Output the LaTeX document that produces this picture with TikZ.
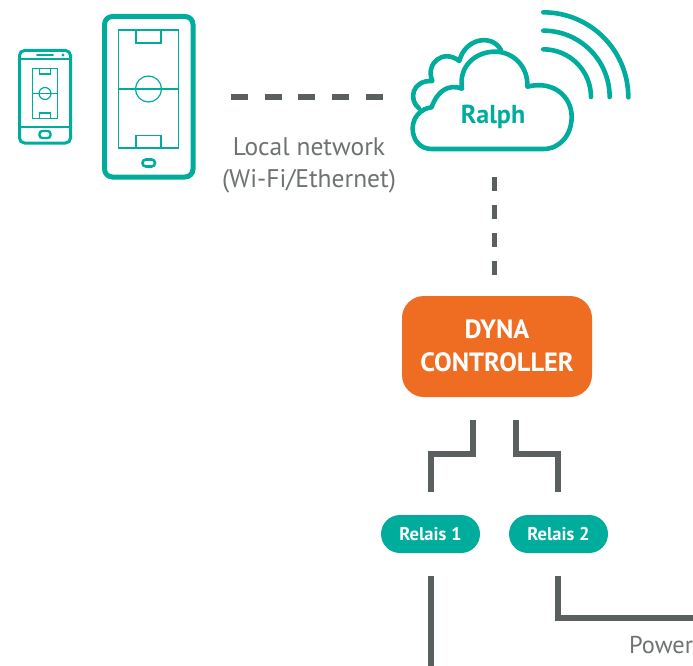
\documentclass[tikz,border=0pt]{standalone}
\usepackage{fontspec}
\setmainfont{PT Sans}
\definecolor{teal1}{HTML}{00AC9B}
\definecolor{orange1}{HTML}{EF6C23}
\definecolor{gray1}{HTML}{5A5F5F}
\definecolor{gray2}{HTML}{6E7272}
\tikzset{
  wire/.style={draw=gray1,line width=5.6pt},
  dashh/.style={draw=gray1,line width=5.8pt,dash pattern=on 17pt off 16.7pt},
  dashv/.style={draw=gray1,line width=5.8pt,dash pattern=on 14pt off 14pt},
  pill/.style={rounded rectangle,fill=teal1,text=white,minimum width=99pt,minimum height=38pt,inner sep=0pt,font=\fontsize{18.5}{20}\selectfont\bfseries},
  ctrl/.style={rectangle,rounded corners=22pt,fill=orange1,text=white,minimum width=190pt,minimum height=101pt,inner sep=0pt,align=center,font=\fontsize{26.4}{33}\selectfont\bfseries},
  lab/.style={text=gray2,inner sep=0pt,align=center,font=\fontsize{25.5}{32}\selectfont},
  teal thick/.style={draw=teal1,line width=5pt},
  teal mid/.style={draw=teal1,line width=3pt},
  teal thin/.style={draw=teal1,line width=1.2pt},
  cloudline/.style={draw=teal1,line width=4.6pt,line join=round,line cap=round},
}
\usetikzlibrary{shapes.misc}
\begin{document}
\begin{tikzpicture}[x=1pt,y=-1pt]
\useasboundingbox (0,0) rectangle (693,666);
\clip (0,0) rectangle (693,666);
% large tablet
\draw[teal thick,rounded corners=8pt] (104.5,16.5) rectangle (193,177);
\draw[teal thin] (118.5,30) rectangle (178.5,148);
\draw[teal thin] (136,30) rectangle (161,43);
\draw[teal thin] (136,135.5) rectangle (161,148);
\draw[teal thin] (118.5,89) -- (178.5,89);
\draw[teal thin] (148.5,89) circle[radius=13];
\draw[teal1,line width=2.6pt,rounded corners=3.4pt] (142.5,159.5) rectangle (155,166.5);
% small phone
\draw[teal mid,rounded corners=5pt] (19.5,50.5) rectangle (70.5,143);
\draw[teal mid,line width=2pt] (19.5,59.5) -- (70.5,59.5);
\draw[teal mid,line width=2pt] (19.5,127) -- (70.5,127);
\draw[teal1,line width=2pt,line cap=round] (37,55) -- (53,55);
\fill[teal1] (63,55) circle[radius=1.7];
\draw[teal thin] (32.5,68.5) rectangle (57.5,118.5);
\draw[teal thin] (39.5,68.5) rectangle (50.5,74);
\draw[teal thin] (39.5,113) rectangle (50.5,118.5);
\draw[teal thin] (32.5,93.5) -- (57.5,93.5);
\draw[teal thin] (45,93.5) circle[radius=6];
\draw[teal1,line width=2.4pt,rounded corners=2.8pt] (39.5,131) rectangle (50.5,138);
% cloud and waves
\begin{scope}[shift={(400,0)},x=0.3333pt,y=-0.3333pt]
\draw[cloudline] (95,447) .. controls (60,447) and (38,420) .. (38,385)
  .. controls (38,350) and (65,325) .. (95,322)
  .. controls (110,275) and (145,250) .. (186,266)
  .. controls (175,195) and (230,155) .. (285,155)
  .. controls (340,155) and (385,200) .. (382,260)
  .. controls (460,240) and (515,290) .. (515,350)
  .. controls (515,405) and (480,447) .. (430,447) -- cycle;
\draw[cloudline] (57,325) .. controls (25,300) and (35,240) .. (97,243)
  .. controls (75,190) and (130,145) .. (178,183)
  .. controls (195,115) and (275,100) .. (303,150);
\draw[cloudline] (430,37) arc[start angle=-90,end angle=0,radius=255];
\draw[cloudline] (430,92) arc[start angle=-90,end angle=0,radius=199];
\draw[cloudline] (430,148) arc[start angle=-90,end angle=0,radius=143];
\end{scope}
\node[inner sep=0pt,text=teal1,font=\fontsize{26}{30}\selectfont\bfseries] (ralph) at (493,117) {Ralph};
% nodes
\node[ctrl,text depth=0pt] (dyna) at (497,346.5) {\raisebox{2.5pt}{DYNA}\\\raisebox{2pt}{CONTROLLER}};
\node[pill] (r1) at (430.5,534) {Relais 1};
\node[pill] (r2) at (558.5,534) {Relais 2};
\node[lab] (lan) at (309,165.5) {Local network\\(Wi-Fi/Ethernet)};
\node[lab,anchor=west,font=\fontsize{24.4}{32}\selectfont] (power) at (629,645.5) {Power};
% connectors
\coordinate (lanA) at (231,97);
\coordinate (lanB) at (383,97);
\coordinate (upA) at (494.5,177);
\coordinate (upB) at (494.5,275);
\coordinate (d1) at (473,420);
\coordinate (d2) at (516,420);
\coordinate (r1t) at (431,492);
\coordinate (r2t) at (558,492);
\coordinate (r1b) at (431,576);
\coordinate (r2b) at (558,576);
\coordinate (endA) at (431,666);
\coordinate (endB) at (693,618);
\draw[dashh] (lanA) -- (lanB);
\draw[dashv] (upA) -- (upB);
\draw[wire] (d1) -- ++(0,34) -| (r1t);
\draw[wire] (d2) -- ++(0,34) -| (r2t);
\draw[wire] (r1b) -- (endA);
\draw[wire] (r2b) |- (endB);
\end{tikzpicture}
\end{document}
